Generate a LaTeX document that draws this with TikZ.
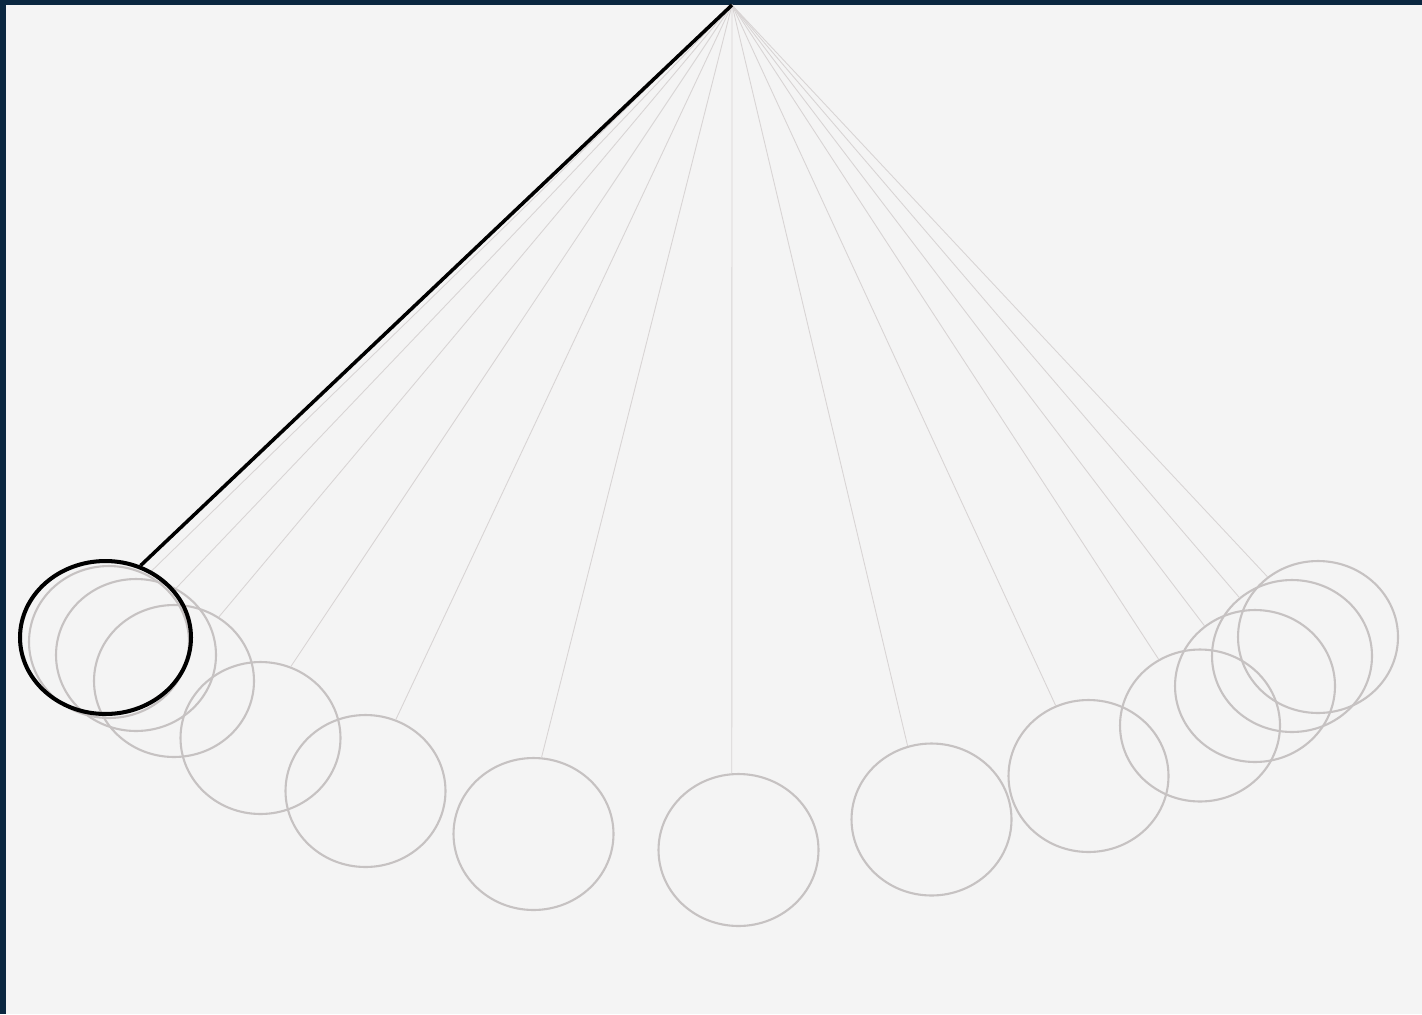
\documentclass[tikz,border=0pt]{standalone}
\usetikzlibrary{shapes.geometric}
\definecolor{frame}{HTML}{0A2740}
\definecolor{paper}{HTML}{F4F4F4}
\definecolor{ghost}{HTML}{C6C2C2}
\definecolor{thread}{HTML}{D8D4D4}
\begin{document}
\begin{tikzpicture}[x=0.02cm, y=-0.02cm,
  bob/.style={draw=ghost, ellipse, inner sep=0pt, minimum width=3.2cm, minimum height=3.04cm, line width=1.2pt},
  lead/.style={draw=black, ellipse, inner sep=0pt, minimum width=3.42cm, minimum height=3.06cm, line width=2.3pt},
  cord/.style={thread, line width=0.5pt},
  rope/.style={black, line width=2pt}
]
\fill[paper] (0,0) rectangle (1422,1014);
\fill[frame] (0,0) rectangle (1422,5);
\fill[frame] (0,0) rectangle (6,1014);

\coordinate (pivot) at (732,5);

\node[bob] (g1) at (109,642) {};
\node[bob] (g2) at (136,655) {};
\node[bob] (g3) at (174,681) {};
\node[bob] (g4) at (260.5,738) {};
\node[bob] (g5) at (365.5,791) {};
\node[bob] (g6) at (533.5,834) {};
\node[bob] (g7) at (738.5,850) {};
\node[bob] (g8) at (931.5,819.5) {};
\node[bob] (g9) at (1088.5,776) {};
\node[bob] (g10) at (1200,725.5) {};
\node[bob] (g11) at (1255,686) {};
\node[bob] (g12) at (1292,656) {};
\node[bob] (g13) at (1318,637) {};

\draw[cord] (pivot) -- (g1.60);
\draw[cord] (pivot) -- (g2.59);
\draw[cord] (pivot) -- (g3.55);
\draw[cord] (pivot) -- (g4.67);
\draw[cord] (pivot) -- (g5.67);
\draw[cord] (pivot) -- (g6.84);
\draw[cord] (pivot) -- (g7.95);
\draw[cord] (pivot) -- (g8.108);
\draw[cord] (pivot) -- (g9.115);
\draw[cord] (pivot) -- (g10.122);
\draw[cord] (pivot) -- (g11.130);
\draw[cord] (pivot) -- (g12.132);
\draw[cord] (pivot) -- (g13.130);

\node[lead] (b0) at (105.5,637.5) {};
\draw[rope] (pivot) -- (b0.64);
\end{tikzpicture}
\end{document}
